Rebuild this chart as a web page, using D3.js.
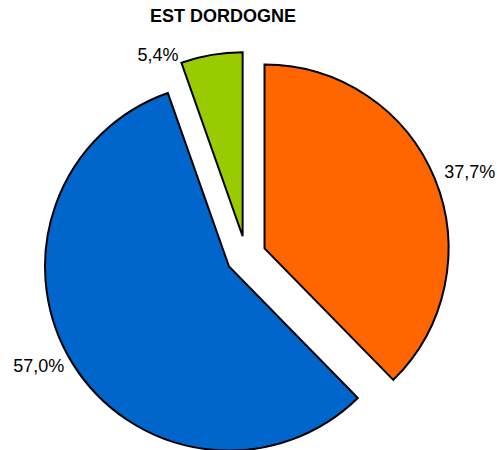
<!DOCTYPE html>
<html>
<head>
<meta charset="utf-8">
<script src="https://cdn.jsdelivr.net/npm/d3@7"></script>
<style>
  body { margin: 0; background: #fff; }
  text { font-family: "Liberation Sans", Arial, sans-serif; }
</style>
</head>
<body>
<svg id="chart" width="497" height="450"></svg>
<script>
// données
var categories = ["A", "B", "C"];
var values = [37.7, 57.0, 5.4];
var labels = ["37,7%", "57,0%", "5,4%"];
var colors = ["#ff6600", "#0066cc", "#99cc00"];

var svg = d3.select("#chart");
var cx = 246, cy = 256, r = 184, explode = 20;

// titre
svg.append("text")
  .attr("x", 223).attr("y", 22)
  .attr("text-anchor", "middle")
  .attr("font-size", 18).attr("font-weight", "bold")
  .text("EST DORDOGNE");

var pie = d3.pie().sort(null).value(function(d){ return d; });
var arc = d3.arc().innerRadius(0).outerRadius(r);
var arcs = pie(values);

var g = svg.append("g").attr("transform", "translate(" + cx + "," + cy + ")");

function offset(d, dist) {
  var a = (d.startAngle + d.endAngle) / 2;
  return [Math.sin(a) * dist, -Math.cos(a) * dist];
}

g.selectAll("path")
  .data(arcs)
  .enter()
  .append("path")
  .attr("d", arc)
  .attr("transform", function(d){ return "translate(" + offset(d, explode) + ")"; })
  .attr("fill", function(d, i){ return colors[i]; })
  .attr("stroke", "#000")
  .attr("stroke-width", 2)
  .attr("stroke-linejoin", "miter");

// étiquettes (petite part : placée au début de l'angle)
g.selectAll("text.lbl")
  .data(arcs)
  .enter()
  .append("text")
  .attr("class", "lbl")
  .attr("font-size", 18)
  .each(function(d){
    var o = offset(d, explode);
    var a = (d.startAngle + d.endAngle) / 2;
    var small = (d.endAngle - d.startAngle) < 0.5;
    if (small) a = d.startAngle;
    var rr = small ? r + 9 : r + 10;
    var x = o[0] + Math.sin(a) * rr;
    var y = o[1] - Math.cos(a) * rr;
    d3.select(this)
      .attr("x", x).attr("y", y)
      .attr("dy", small ? "0.35em" : "0.15em")
      .attr("text-anchor", Math.sin(a) >= 0 ? "start" : "end");
  })
  .text(function(d, i){ return labels[i]; });
</script>
</body>
</html>
